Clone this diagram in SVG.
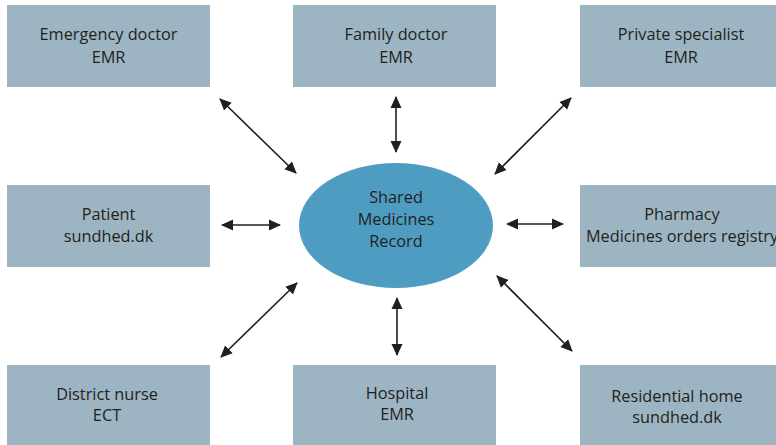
<svg xmlns="http://www.w3.org/2000/svg" width="776" height="445" viewBox="0 0 776 445">
  <style>
    .box { fill: #9db5c2; }
    .hub { fill: #4f9cc2; }
    .lbl { font-family: "Open Sans", "Liberation Sans", sans-serif; font-size: 16.3px; fill: #231f20; text-anchor: middle; }
    .link { stroke: #231f20; stroke-width: 1.6; fill: none; marker-start: url(#head); marker-end: url(#head); }
  </style>
  <defs>
    <marker id="head" viewBox="0 0 12 12" refX="11" refY="6" markerWidth="12" markerHeight="12" markerUnits="userSpaceOnUse" orient="auto-start-reverse">
      <path d="M0,0.5 L12,6 L0,11.5 Z" fill="#231f20"/>
    </marker>
  </defs>
  <rect width="776" height="445" fill="#ffffff"/>

  <g id="emergency-doctor">
    <rect class="box" x="7" y="5" width="203" height="82"/>
    <text class="lbl" x="108.5" y="40">Emergency doctor</text>
    <text class="lbl" x="108.5" y="63">EMR</text>
  </g>
  <g id="family-doctor">
    <rect class="box" x="293" y="5" width="203" height="82"/>
    <text class="lbl" x="396" y="40">Family doctor</text>
    <text class="lbl" x="396" y="63">EMR</text>
  </g>
  <g id="private-specialist">
    <rect class="box" x="580" y="5" width="204" height="82"/>
    <text class="lbl" x="681" y="40">Private specialist</text>
    <text class="lbl" x="681" y="63">EMR</text>
  </g>
  <g id="patient">
    <rect class="box" x="7" y="185" width="203" height="82"/>
    <text class="lbl" x="108.5" y="220">Patient</text>
    <text class="lbl" x="108.5" y="242">sundhed.dk</text>
  </g>
  <g id="pharmacy">
    <rect class="box" x="580" y="185" width="204" height="82"/>
    <text class="lbl" x="682" y="220">Pharmacy</text>
    <text class="lbl" x="682" y="242">Medicines orders registry</text>
  </g>
  <g id="district-nurse">
    <rect class="box" x="7" y="365" width="203" height="82"/>
    <text class="lbl" x="107" y="400">District nurse</text>
    <text class="lbl" x="107" y="421">ECT</text>
  </g>
  <g id="hospital">
    <rect class="box" x="293" y="365" width="203" height="82"/>
    <text class="lbl" x="397" y="399">Hospital</text>
    <text class="lbl" x="397" y="420">EMR</text>
  </g>
  <g id="residential-home">
    <rect class="box" x="580" y="365" width="204" height="82"/>
    <text class="lbl" x="677" y="402">Residential home</text>
    <text class="lbl" x="677" y="423">sundhed.dk</text>
  </g>

  <g id="shared-medicines-record">
    <ellipse class="hub" cx="396" cy="225.5" rx="97" ry="62.5"/>
    <text class="lbl" x="396" y="203">Shared</text>
    <text class="lbl" x="396" y="225">Medicines</text>
    <text class="lbl" x="396" y="247">Record</text>
  </g>

  <g id="connectors">
    <line class="link" x1="220" y1="99" x2="296" y2="173"/>
    <line class="link" x1="396" y1="97" x2="396" y2="152"/>
    <line class="link" x1="571" y1="98" x2="495" y2="174"/>
    <line class="link" x1="222" y1="225" x2="280" y2="225"/>
    <line class="link" x1="507" y1="224" x2="563" y2="224"/>
    <line class="link" x1="297" y1="283" x2="221" y2="357"/>
    <line class="link" x1="397" y1="298" x2="397" y2="355"/>
    <line class="link" x1="497" y1="276" x2="572" y2="351"/>
  </g>
</svg>
